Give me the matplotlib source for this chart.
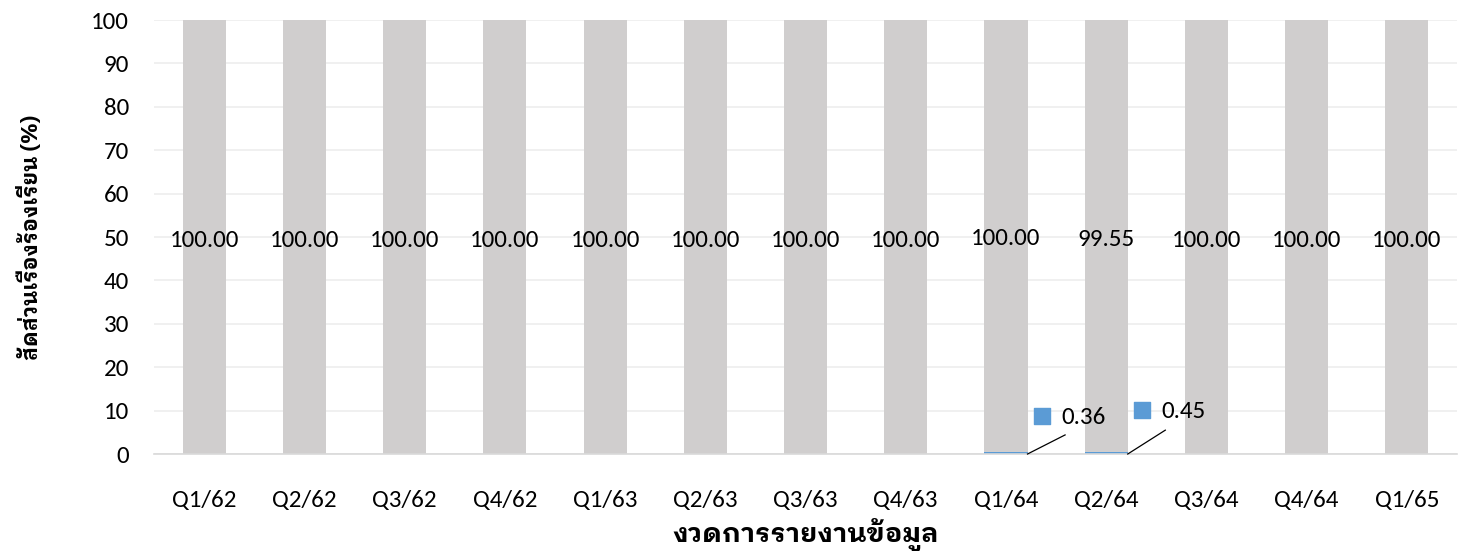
import matplotlib
matplotlib.use("Agg")
import matplotlib.pyplot as plt
import numpy as np

# ==========================================
# DATA
# ==========================================
quarters = ["Q1/62", "Q2/62", "Q3/62", "Q4/62", "Q1/63", "Q2/63", "Q3/63",
            "Q4/63", "Q1/64", "Q2/64", "Q3/64", "Q4/64", "Q1/65"]
gray_values = [100.00, 100.00, 100.00, 100.00, 100.00, 100.00, 100.00,
               100.00, 100.00, 99.55, 100.00, 100.00, 100.00]
blue_values = [0, 0, 0, 0, 0, 0, 0, 0, 0.36, 0.45, 0, 0, 0]

Y_LABEL = "สัดส่วนเรื่องร้องเรียน (%)"
X_LABEL = "งวดการรายงานข้อมูล"

GRAY = "#D0CECE"
BLUE = "#5B9BD5"
FONTS = ["Carlito", "Noto Sans Thai Looped", "DejaVu Sans"]
THAI_FONTS = ["IBM Plex Sans Thai Looped", "Noto Sans Thai Looped", "DejaVu Sans"]

plt.rcParams["font.family"] = FONTS

# ==========================================
# PLOT
# ==========================================
fig = plt.figure(figsize=(14.59, 5.51), dpi=100)
ax = fig.add_axes([0.1056, 0.176, 0.893, 0.7877])

x = np.arange(len(quarters))
bar_w = 0.43

ax.bar(x, blue_values, width=bar_w, color=BLUE, zorder=2)
ax.bar(x, gray_values, width=bar_w, bottom=blue_values, color=GRAY, zorder=2)

# gray labels centered
for i, (g, b) in enumerate(zip(gray_values, blue_values)):
    ax.text(i, b + g / 2 - 0.7, f"{g:.2f}", ha="center", va="center",
            fontsize=18, color="#000000", zorder=4)

# blue labels with leader line + legend key
blue_label_y = {8: (8.5, 4.4), 9: (9.9, 5.5)}
for i, b in enumerate(blue_values):
    if b <= 0:
        continue
    ly, ey = blue_label_y[i]
    ax.plot([i + bar_w / 2, i + 0.59], [0, ey], color="#000000", lw=0.9,
            zorder=4, clip_on=False)
    ax.scatter([i + 0.36], [ly + 0.2], marker="s", s=120, color=BLUE,
               zorder=4, clip_on=False)
    ax.text(i + 0.55, ly, f"{b:.2f}", ha="left", va="center", fontsize=18,
            color="#000000", zorder=4)

# ==========================================
# AXES
# ==========================================
ax.set_xlim(-0.5, len(quarters) - 0.5)
ax.set_ylim(0, 100)
ax.set_yticks(np.arange(0, 101, 10))
ax.set_xticks(x)
ax.set_xticklabels(quarters)

ax.grid(axis="y", color="#EEEEEE", lw=1.2, zorder=0)
ax.set_axisbelow(True)
for side in ["top", "right", "left"]:
    ax.spines[side].set_visible(False)
ax.spines["bottom"].set_color("#D9D9D9")
ax.spines["bottom"].set_linewidth(1.2)
ax.spines["bottom"].set_zorder(3)

ax.tick_params(axis="y", length=0, pad=18, labelsize=18)
ax.tick_params(axis="x", length=0, pad=26, labelsize=18)

ax.set_ylabel(Y_LABEL, fontsize=15.5, fontweight="bold", family=THAI_FONTS)
ax.set_xlabel(X_LABEL, fontsize=19.5, fontweight="bold", family=THAI_FONTS)
ax.yaxis.set_label_coords(-0.086, 0.5)
ax.xaxis.set_label_coords(0.5, -0.148)

fig.savefig("out.png", dpi=100)
